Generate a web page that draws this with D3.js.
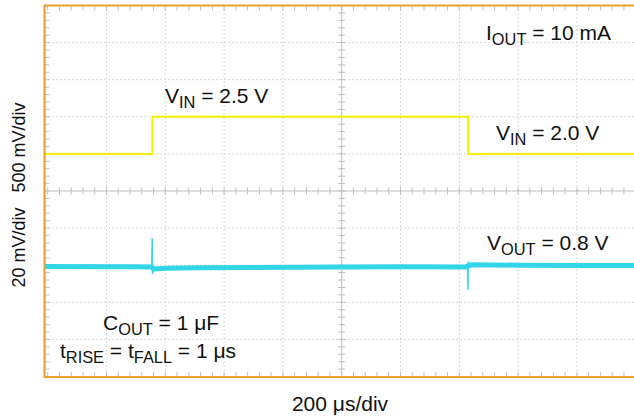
<!DOCTYPE html>
<html><head><meta charset="utf-8">
<script src="https://cdn.jsdelivr.net/npm/d3@7"></script>
<style>body{margin:0;background:#fff}svg{display:block}text{font-family:"Liberation Sans",Arial,sans-serif;fill:#111}</style>
</head><body><svg id="c" width="634" height="417"></svg>
<script>
// ---- data ----
// time axis in microseconds (200 us/div), 0 = screen centre
const xDivs = [-1000,-800,-600,-400,-200,0,200,400,600,800,1000];
// VIN channel (V), 500 mV/div, centre = 1.5 V
const vinTime  = [-1020, -644, -644, 430, 430, 1000];
const vinValue = [2.0, 2.0, 2.5, 2.5, 2.0, 2.0];
// VOUT channel (mV), 20 mV/div, centre = 841 mV
const voutTime  = [-1020, -700, -646, -640, -600, -500, -300, 0, 200, 420, 436, 450, 600, 800, 1000];
const voutValue = [800.3, 800.2, 800.0, 799.0, 799.3, 799.6, 799.8, 800.0, 800.1, 800.0, 801.0, 801.2, 801.0, 800.8, 800.8];
const spikeUpTime  = [-646, -644.5, -644, -643, -641];
const spikeUpValue = [800, 815.5, 800, 796.3, 798.5];
const spikeDnTime  = [428, 429.5, 430, 431, 433];
const spikeDnValue = [800, 787.6, 800, 803, 801.5];
const labels = {
  iout: ["I","OUT"," = 10 mA"],
  vinHi: ["V","IN"," = 2.5 V"],
  vinLo: ["V","IN"," = 2.0 V"],
  vout: ["V","OUT"," = 0.8 V"],
  cout: ["C","OUT"," = 1 \u03bcF"]
};
const yLabel = "20 mV/div   500 mV/div";
const xLabel = "200 \u03bcs/div";

// ---- layout ----
const svg = d3.select("#c");
const cx = 341.7, divX = 58.8, cy = 191, divY = 37.1;
const pL = 44.5, pT = 5.5, pB = 377, pR = 634;
const x = d3.scaleLinear().domain([-1000,1000]).range([cx-5*divX, cx+5*divX]);
const yIn = d3.scaleLinear().domain([1.5-2.5, 1.5+2.5]).range([cy+5*divY, cy-5*divY]);
const yOut = d3.scaleLinear().domain([841-100, 841+100]).range([cy+5*divY, cy-5*divY]);

const g = svg.append("g");
// dotted grid
const gx = xDivs.filter(d => x(d) > pL+4 && x(d) < pR && d !== 0);
g.selectAll(".vg").data(gx).join("line")
  .attr("x1", d=>x(d)).attr("x2", d=>x(d)).attr("y1", pT).attr("y2", pB)
  .attr("stroke","#c9c9c9").attr("stroke-width",1).attr("stroke-dasharray","1.5,2.5");
const yDivs = d3.range(-0.5, 4.01, 0.5).filter(d => d !== 1.5);
g.selectAll(".hg").data(yDivs).join("line")
  .attr("x1", pL).attr("x2", pR).attr("y1", d=>yIn(d)).attr("y2", d=>yIn(d))
  .attr("stroke","#c9c9c9").attr("stroke-width",1).attr("stroke-dasharray","1.5,2.5");
// centre cross
g.append("line").attr("x1",pL).attr("x2",pR).attr("y1",cy).attr("y2",cy).attr("stroke","#bdbdbd");
g.append("line").attr("x1",cx).attr("x2",cx).attr("y1",pT).attr("y2",pB).attr("stroke","#bdbdbd");
const minorX = d3.range(-1000, 1001, 40).filter(d => x(d) > pL+2 && x(d) < pR);
const minorY = d3.range(-1, 4.001, 0.1);
g.selectAll(".mx").data(minorX).join("line")
  .attr("x1",d=>x(d)).attr("x2",d=>x(d)).attr("y1",cy-3.5).attr("y2",cy+3.5).attr("stroke","#bdbdbd");
g.selectAll(".my").data(minorY).join("line")
  .attr("x1",cx-3.5).attr("x2",cx+3.5).attr("y1",d=>yIn(d)).attr("y2",d=>yIn(d)).attr("stroke","#bdbdbd");
// border ticks
g.selectAll(".tt").data(minorX).join("line")
  .attr("x1",d=>x(d)).attr("x2",d=>x(d)).attr("y1",pT).attr("y2",pT+5).attr("stroke","#bdbdbd");
g.selectAll(".bt").data(minorX).join("line")
  .attr("x1",d=>x(d)).attr("x2",d=>x(d)).attr("y1",pB-5).attr("y2",pB).attr("stroke","#bdbdbd");
g.selectAll(".lt").data(minorY).join("line")
  .attr("x1",pL).attr("x2",pL+5).attr("y1",d=>yIn(d)).attr("y2",d=>yIn(d)).attr("stroke","#bdbdbd");

// traces
svg.append("clipPath").attr("id","pc").append("rect")
  .attr("x",pL).attr("y",pT).attr("width",pR-pL).attr("height",pB-pT);
const tr = svg.append("g").attr("clip-path","url(#pc)");
const lineIn = d3.line().x(d=>x(d[0])).y(d=>yIn(d[1]));
const lineOut = d3.line().x(d=>x(d[0])).y(d=>yOut(d[1]));
tr.append("path").attr("d", lineIn(d3.zip(vinTime, vinValue)))
  .attr("fill","none").attr("stroke","#f4f000").attr("stroke-width",2);
tr.append("path").attr("d", lineOut(d3.zip(voutTime, voutValue)))
  .attr("fill","none").attr("stroke","#33d6e8").attr("stroke-width",5).attr("stroke-linejoin","round");
tr.append("path").attr("d", lineOut(d3.zip(spikeUpTime, spikeUpValue)))
  .attr("fill","none").attr("stroke","#33d6e8").attr("stroke-width",1.5);
tr.append("path").attr("d", lineOut(d3.zip(spikeDnTime, spikeDnValue)))
  .attr("fill","none").attr("stroke","#33d6e8").attr("stroke-width",1.5);

// border
svg.append("path").attr("d",`M${pR},${pT}H${pL}V${pB}H${pR}`)
  .attr("fill","none").attr("stroke","#f0a030").attr("stroke-width",2.2);

// labels
const FS = 21, SUB = 0.78, DY = 4.5;
function sub(parts, px, py) {
  const t = svg.append("text").attr("x",px).attr("y",py).attr("font-size",FS);
  t.append("tspan").text(parts[0]);
  t.append("tspan").attr("font-size",FS*SUB).attr("dy",DY).text(parts[1]);
  t.append("tspan").attr("dy",-DY).text(parts[2]);
  return t;
}
sub(labels.iout, 486, 40);
sub(labels.vinHi, 165, 103);
sub(labels.vinLo, 496, 140);
sub(labels.vout, 487, 250);
sub(labels.cout, 103, 330);
const tl = svg.append("text").attr("x",60).attr("y",358).attr("font-size",FS);
tl.append("tspan").text("t");
tl.append("tspan").attr("font-size",FS*SUB).attr("dy",DY).text("RISE");
tl.append("tspan").attr("dy",-DY).text(" = t");
tl.append("tspan").attr("font-size",FS*SUB).attr("dy",DY).text("FALL");
tl.append("tspan").attr("dy",-DY).text(" = 1 \u03bcs");

svg.append("text").attr("transform",`translate(25,${195}) rotate(-90)`)
  .attr("text-anchor","middle").attr("font-size",18).style("white-space","pre").text(yLabel);
svg.append("text").attr("x",340).attr("y",411).attr("text-anchor","middle").attr("font-size",21).text(xLabel);
</script></body></html>
